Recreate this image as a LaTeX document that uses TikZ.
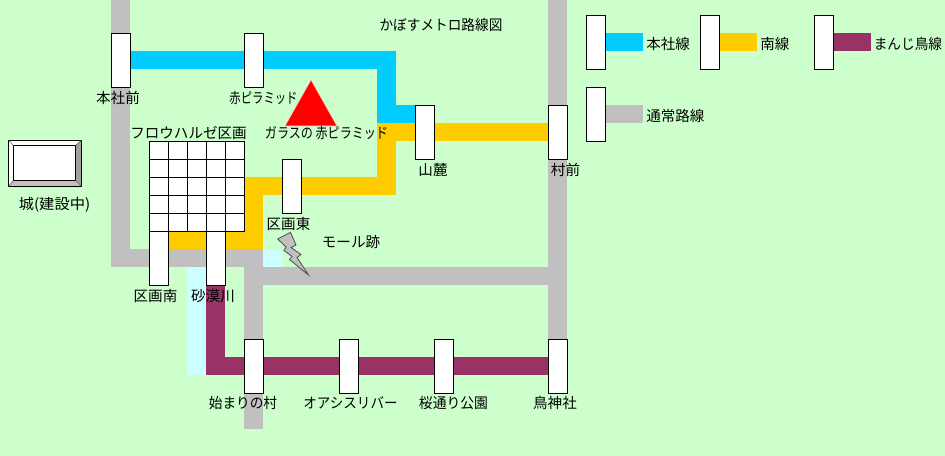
\documentclass[tikz,border=0pt]{standalone}
\usepackage{graphicx}
\usepackage{fontspec}
\setmainfont{Noto Sans CJK JP}
\tikzset{
  x=0.75pt,y=-0.75pt,
  stationbox/.style={draw=black,line width=0.75pt,fill=white},
  label/.style={inner sep=0pt,font=\fontsize{10.9pt}{12pt}\selectfont,text=black,anchor=center},
}
\definecolor{bgc}{HTML}{CCFFCC}
\definecolor{bluec}{HTML}{00CCFF}
\definecolor{yellowc}{HTML}{FFCC00}
\definecolor{purplec}{HTML}{993366}
\definecolor{grayc}{HTML}{C0C0C0}
\definecolor{cyanc}{HTML}{CCFFFF}
\definecolor{bevelc}{HTML}{A0A0A0}
\definecolor{pinkc}{HTML}{FFC8C8}
\newcommand{\stn}[2]{\draw[stationbox] (#1+0.5,#2+0.5) rectangle (#1+19.5,#2+54.5);}
\newcommand{\sq}[2]{\scalebox{#1}[1]{#2}}
\begin{document}
\begin{tikzpicture}
\useasboundingbox (0,0) rectangle (945,456);
\fill[bgc] (0,0) rectangle (945,456);
% grey
\fill[grayc] (111,0) rectangle (130,267);
\fill[grayc] (111,249) rectangle (263,267);
\fill[grayc] (244,249) rectangle (263,429);
\fill[grayc] (244,267) rectangle (567,285);
\fill[grayc] (548,0) rectangle (567,345);
% light cyan
\fill[cyanc] (263,249) rectangle (282,267);
\fill[cyanc] (187,267) rectangle (206,375);
% purple
\fill[purplec] (206,285) rectangle (225,375);
\fill[purplec] (206,357) rectangle (549,375);
% yellow
\fill[yellowc] (169,231) rectangle (263,249);
\fill[yellowc] (245,177) rectangle (263,249);
\fill[yellowc] (245,177) rectangle (396,195);
\fill[yellowc] (377,123) rectangle (396,195);
\fill[yellowc] (377,123) rectangle (548,141);
% blue
\fill[bluec] (130,51) rectangle (396,69);
\fill[bluec] (377,51) rectangle (396,123);
\fill[bluec] (377,105) rectangle (415,123);
% grid
\fill[white] (149,141) rectangle (245,231);
\draw[black,line width=0.75pt,shift={(0.5,0.5)}] (149,141) rectangle (244,231);
\foreach \xx in {168,187,206,225} \draw[black,line width=0.75pt] (\xx+0.5,141) -- (\xx+0.5,231);
\foreach \yy in {159,177,195,213} \draw[black,line width=0.75pt] (149,\yy+0.5) -- (245,\yy+0.5);
% stations
\stn{111}{33}\stn{244}{33}\stn{415}{105}\stn{548}{105}\stn{282}{159}
\stn{149}{231}\stn{206}{231}\stn{244}{339}\stn{339}{339}\stn{434}{339}\stn{548}{339}
% castle
\fill[white] (8,140) -- (81,140) -- (76,145) -- (13,145) -- (13,181) -- (8,187) -- cycle;
\fill[bevelc] (81,140) -- (81,187) -- (76,181) -- (76,145) -- cycle;
\fill[grayc] (8,187) -- (81,187) -- (76,181) -- (13,181) -- cycle;
\fill[white] (13,145) rectangle (76,181);
\draw[black,line width=0.75pt] (8.5,140.5) rectangle (81.5,186.5);
\draw[black,line width=0.75pt] (13.5,145.5) rectangle (75.5,180.5);
\draw[black!60,line width=0.5pt] (8.5,140.5) -- (13.5,145.5) (81.5,140.5) -- (75.5,145.5) (8.5,186.5) -- (13.5,180.5) (81.5,186.5) -- (75.5,180.5);
% triangle
\draw[fill=red,draw=pinkc,line width=0.4pt] (311,80) -- (337,126) -- (285,126) -- cycle;
% lightning
\draw[fill=grayc,draw=black!70,line width=0.6pt] (277.7,239) -- (290.5,232.3) -- (296,245) -- (291,247.5) -- (301,254.5) -- (297,257.5) -- (308.5,275) -- (289.5,259.5) -- (292,256.5) -- (284,250.5) -- (286,247) -- cycle;
% legend
\stn{586}{15}\stn{700}{15}\stn{814}{15}\stn{586}{87}
\fill[bluec] (606,33) rectangle (643,51);
\fill[yellowc] (720,33) rectangle (757,51);
\fill[purplec] (834,33) rectangle (871,51);
\fill[grayc] (606,105) rectangle (643,123);
% labels
\node[label] (l1) at (118,98) {本社前};
\node[label] (l2) at (263.5,98) {\sq{0.78}{赤ピラミッド}};
\node[label] (l3) at (326.5,133) {\sq{0.83}{ガラスの 赤ピラミッド}};
\node[label] (l4) at (188.5,133) {フロウハルゼ区画};
\node[label] (l5) at (54.5,205) {\sq{1.05}{城(建設中)}};
\node[label] (l6) at (288.5,224) {区画東};
\node[label] (l7) at (351,242) {モール跡};
\node[label] (l8) at (155.5,296) {区画南};
\node[label] (l9) at (213,296) {砂漠川};
\node[label] (l10) at (433,170) {山麓};
\node[label] (l11) at (565.5,170) {村前};
\node[label] (l12) at (243,403) {\sq{0.94}{始まりの村}};
\node[label] (l13) at (350.5,403) {\sq{0.93}{オアシスリバー}};
\node[label] (l14) at (453.5,403) {\sq{0.95}{桜通り公園}};
\node[label] (l15) at (555,403) {鳥神社};
\node[label] (l16) at (441,25) {\sq{0.94}{かぼすメトロ路線図}};
\node[label,anchor=west] (l17) at (646,44) {本社線};
\node[label,anchor=west] (l18) at (760,44) {南線};
\node[label,anchor=west] (l19) at (873.5,44) {\sq{0.94}{まんじ鳥線}};
\node[label,anchor=west] (l20) at (646,116) {通常路線};
\end{tikzpicture}
\end{document}
